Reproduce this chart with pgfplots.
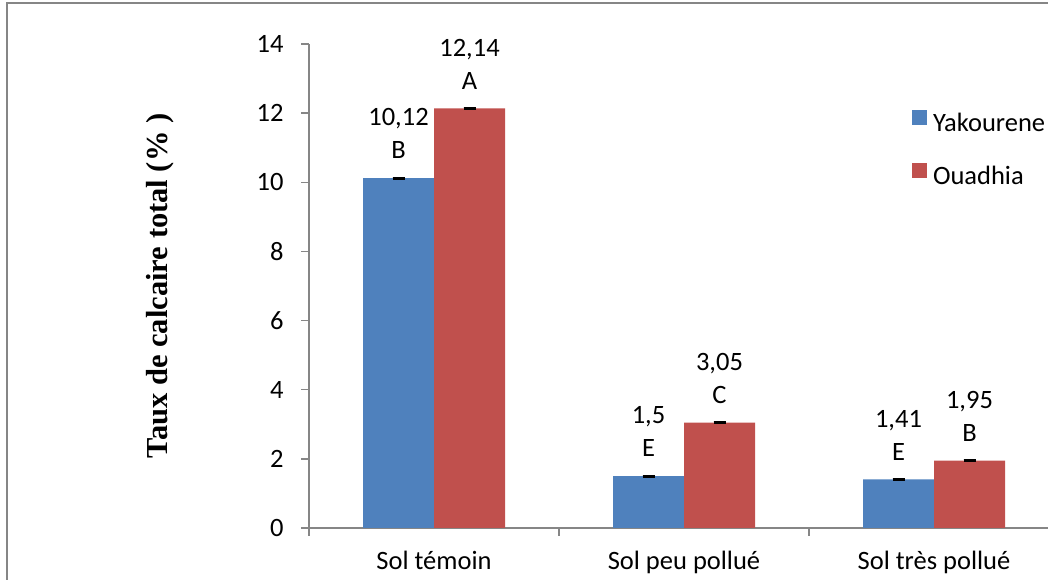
\documentclass[border=0pt]{standalone}
\usepackage{fontspec}
\setmainfont{Carlito}
\newfontfamily\timesfont{Liberation Serif}
\usepackage{pgfplots}
\usepackage{pgfplotstable}
\pgfplotsset{compat=1.18}
\definecolor{cblue}{RGB}{79,129,189}
\definecolor{cred}{RGB}{192,80,77}
\definecolor{axgray}{RGB}{134,134,134}

\pgfplotstableread{
x y grp
0 10.12 B
1 1.5 E
2 1.41 E
}\datY
\pgfplotstableread{
x y grp
0 12.14 A
1 3.05 C
2 1.95 B
}\datO

\begin{document}
\begin{tikzpicture}[x=1pt,y=1pt]
\useasboundingbox (0,0) rectangle (1048,580);
\clip (0,0) rectangle (1048,580);
\draw[axgray, line width=2pt] (7,-10) rectangle (1070,577);
\begin{axis}[
  at={(309pt,52pt)}, anchor=south west,
  scale only axis, width=750pt, height=484pt,
  xmin=-0.5, xmax=2.5, ymin=0, ymax=14,
  axis lines=left,
  axis line style={-, axgray, line width=1.5pt},
  ybar=0pt, bar width=71pt,
  ytick={0,2,...,14},
  xtick={-0.5,0.5,1.5},
  xticklabels={Sol témoin, Sol peu pollué, Sol très pollué},
  xticklabel style={xshift=125pt, yshift=-12pt},
  yticklabel style={xshift=-14pt},
  tick align=outside, major tick length=8pt,
  tick style={axgray, line width=1.5pt},
  /pgf/number format/assume math mode=true,
  /pgf/number format/use comma,
  tick label style={font=\fontsize{26.5}{30}\selectfont, black},
  every axis y label/.style={at={(axis description cs:-0.1987,0.5)}, rotate=90, anchor=center, font=\timesfont\bfseries\fontsize{30.5}{36}\selectfont},
  ylabel={Taux de calcaire total (\% )},
  point meta=explicit symbolic,
  visualization depends on={y \as \rawy},
  nodes near coords={\pgfmathprintnumber[fixed, precision=2, use comma]{\rawy}\\\pgfplotspointmeta},
  every node near coord/.append style={align=center, font=\fontsize{26.5}{33}\selectfont, inner sep=0pt, anchor=south, yshift=19pt, black},
  legend image code/.code={\fill[#1, draw=none] (0pt,0pt) rectangle (15pt,15pt);},
  legend style={draw=none, fill=none, inner sep=0pt, outer sep=0pt, row sep=27pt, column sep=6pt,
    at={(axis description cs:0.804,0.8636)}, anchor=north west,
    nodes={inner sep=0pt, text height=17pt, text depth=5pt, font=\fontsize{26.5}{30}\selectfont}},
  legend cell align=left,
  error bars/error bar style={black, line width=3pt},
  error bars/error mark options={black, rotate=90, mark size=6pt, line width=3pt},
]
\addplot[fill=cblue, draw=none, error bars/.cd, y dir=both, y explicit]
  table[x=x, y=y, meta=grp, y error expr=0] {\datY};
\addplot[fill=cred, draw=none, error bars/.cd, y dir=both, y explicit]
  table[x=x, y=y, meta=grp, y error expr=0] {\datO};
\legend{Yakourene, Ouadhia}
\end{axis}
\end{tikzpicture}
\end{document}
